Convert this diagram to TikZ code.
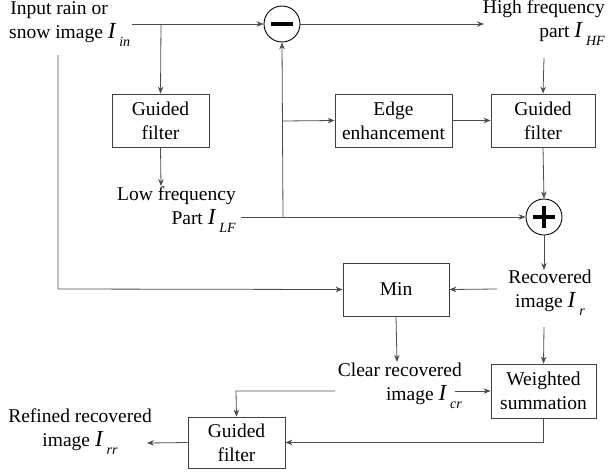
\documentclass[tikz,border=0pt]{standalone}
\usepackage{fontspec}
\setmainfont{Liberation Serif}
\usetikzlibrary{arrows.meta,calc}
\newcommand{\sym}[2]{{\fontsize{23}{23}\selectfont\textit{#1}}\hspace{3pt}\raisebox{-8pt}{\fontsize{14}{14}\selectfont\textit{#2}}}
\begin{document}
\begin{tikzpicture}[x=1pt,y=-1pt,
  every node/.style={font=\fontsize{19.5}{24}\selectfont, inner sep=0pt},
  blk/.style={draw=black!75, line width=0.8pt, rectangle, align=center},
  lbl/.style={align=center},
  op/.style={draw=black, line width=0.9pt, circle, minimum size=36pt},
  conn/.style={draw=black!70, line width=0.8pt},
  arr/.style={conn, -{Stealth[length=7pt,width=5.5pt]}}]
\useasboundingbox (0,0) rectangle (608,472);
% boxes
\node[blk, minimum width=97pt, minimum height=53pt] (gf1) at (160.5,120.5) {Guided\\filter};
\node[blk, minimum width=117pt, minimum height=53pt] (edge) at (393.5,120.5) {Edge\\enhancement};
\node[blk, minimum width=104pt, minimum height=53pt] (gf2) at (543,120.5) {Guided\\filter};
\node[blk, minimum width=106pt, minimum height=53pt] (min) at (396,289.5) {Min};
\node[blk, minimum width=105pt, minimum height=54pt] (ws) at (543.5,391) {Weighted\\summation};
\node[blk, minimum width=97pt, minimum height=51pt] (gf3) at (236.5,442.5) {Guided\\filter};
% operators
\node[op] (minus) at (282,24) {};
\fill[black] ($(minus.center)+(-11,-2)$) rectangle ($(minus.center)+(11,2)$);
\node[op] (plus) at (544,217) {};
\fill[black] ($(plus.center)+(-11,-2)$) rectangle ($(plus.center)+(11,2)$);
\fill[black] ($(plus.center)+(-2,-11)$) rectangle ($(plus.center)+(2,11)$);
% labels
\node[align=right, anchor=north east] (in) at (108,1) {Input rain or\\snow image \rlap{\sym{I}{in}}};
\node[align=right, anchor=north east] (hf) at (605,0) {High frequency\\part \sym{I}{HF}};
\node[align=right, anchor=north east] (lf) at (236,187) {Low frequency\\Part \sym{I}{LF}};
\node[lbl, anchor=north] (rec) at (550,270) {Recovered\\image \sym{I}{r}};
\node[align=right, anchor=north east] (clr) at (462,363) {Clear recovered\\image \sym{I}{cr}};
\node[lbl, anchor=north] (ref) at (80,409) {Refined recovered\\image \sym{I}{rr}};
% coordinates
\coordinate (inS) at (132,24);
\coordinate (b1) at (161,24);
\coordinate (lfN) at (161,186);
\coordinate (lfE) at (241,217);
\coordinate (j1) at (283,217);
\coordinate (j2) at (283,121);
\coordinate (hfW) at (484,24);
\coordinate (hfS) at (544,58);
\coordinate (recN) at (544,270);
\coordinate (recW) at (497,289);
\coordinate (l1) at (58,55);
\coordinate (l2) at (58,289);
\coordinate (clrN) at (397,362);
\coordinate (recS) at (544,327);
\coordinate (clrE) at (455,391);
\coordinate (clrW) at (335,391);
\coordinate (c1) at (236,391);
\coordinate (refE) at (147,443);
% connectors
\draw[arr] (inS) -- (minus.west);
\draw[arr] (b1) -- (gf1.north);
\draw[arr] (gf1.south) -- (lfN);
\draw[arr] (lfE) -- (plus.west);
\draw[arr] (j1) -- (minus.south);
\draw[arr] (j2) -- (edge.west);
\draw[arr] (minus.east) -- (hfW);
\draw[arr] (hfS) -- (gf2.north);
\draw[arr] (edge.east) -- (gf2.west);
\draw[arr] (gf2.south) -- (plus.north);
\draw[arr] (plus.south) -- (recN);
\draw[arr] (recW) -- (min.east);
\draw[arr] (l1) -- (l2) -- (min.west);
\draw[arr] (min.south) -- (clrN);
\draw[arr] (recS) -- (ws.north);
\draw[arr] (clrE) -- (ws.west);
\draw[arr] (clrW) -- (c1) -- (gf3.north);
\draw[arr] (ws.south) |- (gf3.east);
\draw[arr] (gf3.west) -- (refE);
\end{tikzpicture}
\end{document}
